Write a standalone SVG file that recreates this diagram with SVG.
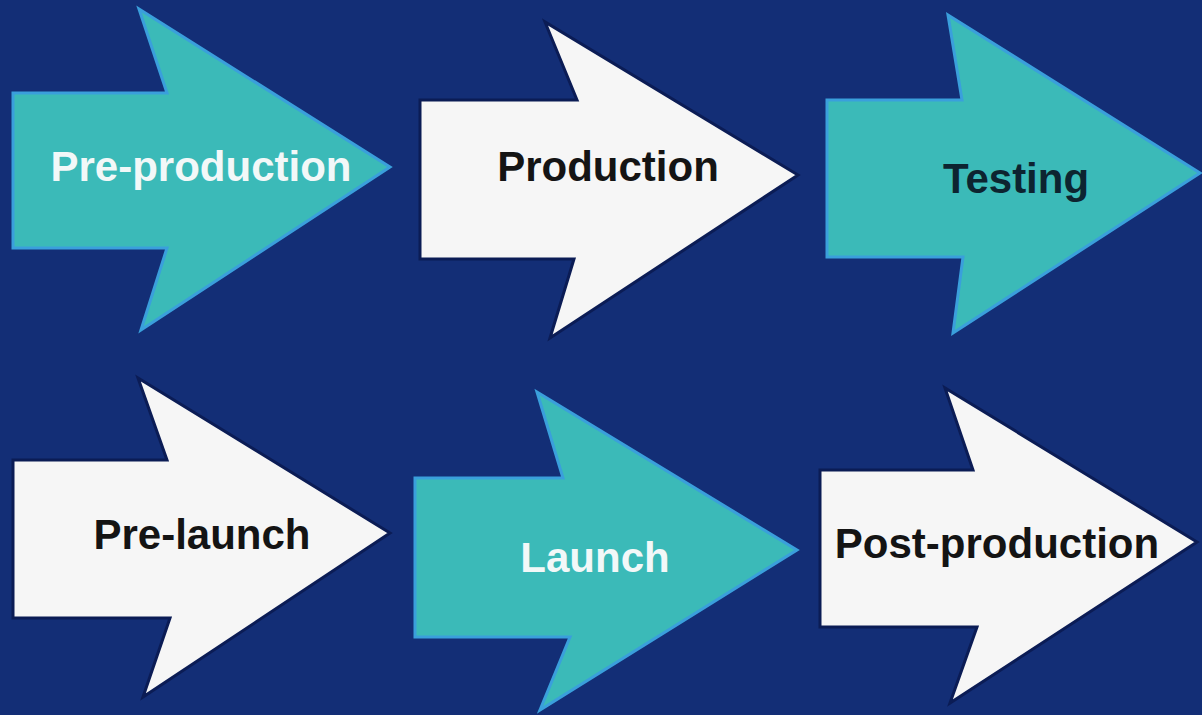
<svg xmlns="http://www.w3.org/2000/svg" width="1202" height="715" viewBox="0 0 1202 715">
<style>
.bg{fill:#132e76}
.teal{fill:#3bbab8;stroke:#3a9fdc;stroke-width:3;stroke-linejoin:miter}
.white{fill:#f6f6f6;stroke:#0b1c55;stroke-width:3;stroke-linejoin:miter}
.lbl{font-family:"Liberation Sans",Arial,sans-serif;font-weight:bold;font-size:42px;text-anchor:middle}
.dark{fill:#141414}
.light{fill:#f2f8f8}
.tdark{fill:#0d2430}
</style>
<rect class="bg" x="0" y="0" width="1202" height="715"/>
<g id="connectors"></g>
<g id="pre-production">
<polygon class="teal" points="13,93 167,93 139,9 390,167 141,330 167,248 13,248"/>
<text class="lbl light" x="201" y="181">Pre-production</text>
</g>
<g id="production">
<polygon class="white" points="420,100 577,100 545,22 798,175 550,338 574,259 420,259"/>
<text class="lbl dark" x="608" y="181">Production</text>
</g>
<g id="testing">
<polygon class="teal" points="827,100 962,100 948,15 1200,173 953,333 963,257 827,257"/>
<text class="lbl tdark" x="1016" y="193">Testing</text>
</g>
<g id="pre-launch">
<polygon class="white" points="13,460 167,460 138,378 390,533 143,697 170,618 13,618"/>
<text class="lbl dark" x="202" y="549">Pre-launch</text>
</g>
<g id="launch">
<polygon class="teal" points="415,478 563,478 537,392 797,550 540,710 570,637 415,637"/>
<text class="lbl light" x="595" y="572">Launch</text>
</g>
<g id="post-production">
<polygon class="white" points="820,470 973,470 945,388 1197,542 950,703 977,627 820,627"/>
<text class="lbl dark" x="997" y="558">Post-production</text>
</g>
</svg>
